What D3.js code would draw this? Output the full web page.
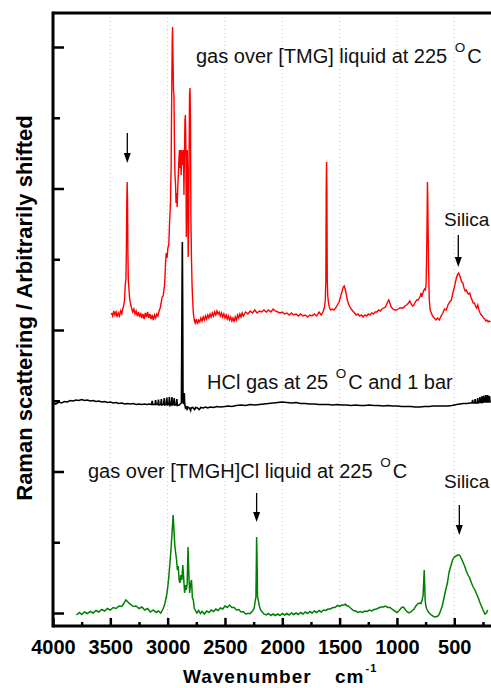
<!DOCTYPE html>
<html><head><meta charset="utf-8">
<script src="https://cdn.jsdelivr.net/npm/d3@7"></script>
<style>body{margin:0;background:#fff}svg{display:block;overflow:hidden}text{font-family:"Liberation Sans",Arial,sans-serif}</style>
</head><body>
<svg id="c" width="491" height="688"></svg>
<script>
// ---- data (wavenumber cm-1, arbitrarily shifted Raman intensity) ----
const xMajorTicks = [4000,3500,3000,2500,2000,1500,1000,500];
const xMinorTicks = [3750,3250,2750,2250,1750,1250,750,250];
const xTickLabels = ["4000","3500","3000","2500","2000","1500","1000","500"];
const yMajorTicks = [0,141.5,283,424.5,566];
const yMinorTicks = [70.75,212.25,353.75,495.25];

const tmgGas = [[3490,300],[3480,297],[3470,302],[3460,298],[3450,301],[3440,296],[3430,300],[3420,297],[3410,302],[3400,299],[3392,304],[3384,307],[3376,313],[3370,328],[3364,333],[3360,363],[3356,413],[3353,431],[3350,413],[3347,363],[3343,333],[3338,325],[3332,315],[3325,310],[3315,305],[3305,301],[3295,304],[3285,299],[3275,302],[3265,297],[3255,301],[3245,296],[3235,300],[3225,295],[3215,299],[3205,294],[3195,300],[3185,296],[3175,301],[3165,295],[3155,299],[3145,294],[3135,298],[3125,293],[3115,298],[3105,295],[3095,299],[3085,297],[3075,302],[3065,305],[3055,311],[3048,316],[3040,317],[3032,323],[3025,331],[3018,351],[3012,360],[3005,355],[2998,365],[2990,368],[2983,391],[2976,408],[2970,443],[2965,513],[2960,573],[2957,586],[2953,553],[2949,523],[2945,518],[2940,463],[2936,438],[2931,428],[2927,410],[2922,420],[2917,406],[2912,425],[2907,438],[2902,453],[2897,463],[2892,445],[2887,463],[2882,438],[2877,463],[2872,448],[2867,458],[2862,463],[2858,418],[2854,453],[2849,493],[2845,498],[2841,463],[2837,376],[2833,413],[2829,463],[2825,438],[2821,356],[2817,383],[2813,453],[2809,518],[2805,525],[2801,493],[2797,393],[2792,353],[2787,328],[2782,313],[2776,300],[2768,293],[2760,290],[2750,294],[2740,289],[2730,293],[2720,291],[2710,295],[2700,292],[2690,296],[2680,293],[2670,297],[2660,294],[2650,298],[2640,295],[2630,299],[2620,296],[2610,300],[2600,297],[2590,301],[2580,298],[2570,302],[2560,299],[2550,301],[2540,297],[2530,300],[2520,296],[2510,299],[2500,295],[2490,298],[2480,294],[2470,297],[2460,293],[2450,296],[2440,292],[2430,295],[2420,291],[2410,296],[2400,293],[2390,298],[2380,295],[2370,299],[2360,296],[2350,300],[2340,297],[2320,301],[2300,299],[2280,302],[2260,300],[2240,303],[2220,300],[2200,302],[2180,301],[2160,303],[2140,301],[2120,303],[2100,301],[2080,304],[2060,302],[2040,301],[2020,300],[2000,301],[1980,299],[1960,300],[1940,298],[1920,300],[1900,298],[1880,299],[1860,297],[1840,299],[1820,297],[1800,298],[1780,296],[1760,298],[1740,297],[1720,299],[1700,297],[1680,301],[1660,298],[1645,301],[1632,306],[1625,313],[1620,333],[1617,423],[1614,451],[1611,423],[1608,335],[1604,318],[1598,311],[1590,306],[1578,303],[1565,304],[1550,303],[1535,305],[1520,308],[1505,311],[1490,317],[1478,322],[1468,326],[1460,327],[1452,324],[1444,320],[1435,314],[1425,310],[1415,307],[1400,304],[1385,302],[1370,300],[1355,298],[1340,299],[1325,297],[1310,298],[1295,296],[1280,298],[1265,297],[1250,299],[1235,298],[1220,300],[1205,299],[1190,301],[1175,301],[1160,303],[1145,302],[1130,304],[1115,305],[1100,306],[1085,310],[1072,313],[1062,310],[1050,306],[1035,304],[1020,303],[1005,303],[990,304],[975,305],[960,305],[945,305],[930,307],[915,308],[900,310],[888,312],[876,309],[864,307],[852,308],[840,311],[828,313],[816,313],[805,315],[796,317],[790,320],[784,316],[776,319],[768,322],[760,324],[752,323],[746,328],[742,351],[738,383],[734,431],[731,413],[728,383],[724,343],[718,313],[710,303],[700,300],[690,297],[675,295],[660,293],[645,295],[630,293],[615,297],[600,300],[585,304],[570,303],[555,308],[540,311],[525,313],[510,321],[495,328],[482,335],[470,339],[462,340],[455,338],[445,335],[435,331],[425,330],[415,325],[405,322],[395,323],[385,320],[375,319],[365,320],[355,316],[345,313],[335,310],[325,310],[315,307],[305,305],[295,308],[285,303],[275,300],[265,298],[255,297],[245,295],[235,294],[225,292],[215,293],[205,291],[195,292],[185,291]];

const hclGas = [[4000,210],[3975,209],[3950,211],[3925,210],[3900,211.5],[3875,211],[3850,212.5],[3825,212],[3800,213],[3775,212.5],[3750,213.5],[3725,212.5],[3700,213],[3675,212],[3650,212.5],[3625,211.5],[3600,212],[3575,211],[3550,211.5],[3525,210.5],[3500,211],[3475,210],[3450,210.5],[3425,209.5],[3400,210],[3375,209],[3350,209.5],[3325,209],[3300,209.5],[3275,208.5],[3250,209],[3225,208.5],[3200,209],[3180,208.5],[3160,209],[3140,208.5],[3135,212],[3130,208.5],[3110,208.5],[3105,213],[3100,208.5],[3085,208.5],[3080,213.5],[3075,208],[3060,208.5],[3055,214],[3050,208],[3035,208.5],[3030,215],[3025,208],[3012,208.5],[3007,215.5],[3002,208],[2990,208.5],[2985,216],[2980,207.5],[2968,208.5],[2963,216],[2958,208],[2948,208.5],[2943,215],[2938,208],[2925,208],[2920,214],[2915,207.5],[2900,208],[2890,209],[2880,210],[2875,313],[2872,371],[2869,313],[2866,211],[2860,209],[2855,220],[2851,209],[2845,205],[2835,206],[2830,203],[2825,206],[2810,205],[2800,202.5],[2795,205],[2780,205.5],[2765,203.5],[2755,205.5],[2740,205],[2725,203.5],[2710,205.5],[2690,205],[2670,206],[2650,205],[2630,206],[2600,205.5],[2570,206.5],[2540,206],[2500,206.5],[2470,207],[2440,206.5],[2400,207.5],[2360,208],[2320,207.5],[2280,208.5],[2240,208],[2200,208.5],[2160,209],[2120,209.5],[2080,210],[2040,210.5],[2000,211],[1960,210.5],[1920,210],[1880,210.5],[1840,209.5],[1800,209.5],[1760,209],[1720,209],[1680,208.5],[1640,208.5],[1600,208.5],[1560,208],[1520,208.5],[1480,208],[1440,208],[1400,207.5],[1360,208],[1320,207.5],[1280,207.5],[1240,208],[1200,207.5],[1160,207.5],[1120,207],[1080,207.5],[1040,207],[1000,207],[960,206.5],[920,206.5],[880,206.5],[840,206],[800,206],[760,206.5],[720,206.5],[680,207],[640,207],[600,207],[560,207],[520,207.5],[480,208.5],[450,209],[420,209.5],[390,209.5],[360,210],[345,210],[340,213],[335,210],[322,210],[318,214],[314,210],[300,210],[296,215],[292,210],[280,210.5],[276,216],[272,210.5],[262,210.5],[258,217],[254,210.5],[245,211],[241,217.5],[237,211],[228,211],[224,218],[220,211],[212,211],[208,218],[204,211],[196,211],[192,217],[188,211],[182,211]];

const tmghclGas = [[3795,-2],[3770,0.5],[3750,-1.5],[3725,1],[3700,-0.5],[3675,1.5],[3650,0],[3625,2.5],[3600,1],[3575,3.5],[3550,2],[3525,4.5],[3500,3],[3475,5.5],[3450,4.5],[3425,7],[3400,6.5],[3380,10],[3365,13],[3350,11.5],[3335,9.5],[3315,8],[3300,6.5],[3275,7],[3250,4.5],[3225,6],[3200,3],[3175,4.5],[3150,1],[3125,3],[3100,0.5],[3080,2],[3060,0],[3040,4],[3025,9],[3010,17],[3000,25],[2990,36],[2980,50],[2970,65],[2960,83],[2952,98],[2945,83],[2938,68],[2930,60],[2922,53],[2915,43],[2908,47],[2900,33],[2893,30],[2885,38],[2876,33],[2868,48],[2860,35],[2852,20],[2845,28],[2838,23],[2830,29],[2822,66],[2815,38],[2808,20],[2800,29],[2792,33],[2784,15],[2776,13],[2768,5],[2760,3],[2745,0],[2730,2.5],[2715,-0.5],[2700,1.5],[2680,-1],[2660,2],[2640,0.5],[2620,3],[2600,1.5],[2580,4],[2560,2.5],[2540,5],[2520,4],[2500,7],[2480,5.5],[2460,8],[2440,5.5],[2420,5.5],[2400,3],[2380,3.5],[2360,1],[2340,1.5],[2320,-1],[2300,-0.5],[2280,-0.5],[2260,2],[2245,5],[2235,13],[2230,16],[2226,53],[2224,76],[2220,53],[2216,16],[2210,13],[2200,7],[2190,3],[2175,1],[2160,-1],[2140,-2],[2120,-0.5],[2100,-2.5],[2080,-1],[2060,-2.5],[2040,-1],[2020,-2.5],[2000,-0.5],[1980,-2],[1960,-0.5],[1940,-2],[1920,0],[1900,-1.5],[1880,0],[1860,-1.5],[1840,0.5],[1820,-1],[1800,1],[1780,-0.5],[1760,1.5],[1740,0],[1720,2],[1700,0.5],[1680,2.5],[1660,1],[1640,3],[1620,2.5],[1600,4],[1580,4],[1560,5.5],[1540,5.5],[1520,7.5],[1500,6.5],[1480,8],[1460,8],[1450,9],[1440,7.5],[1425,7],[1410,5.5],[1395,4],[1380,2.5],[1360,2],[1340,0.5],[1320,1.5],[1300,0.5],[1280,2],[1260,1.5],[1240,3],[1220,2],[1200,3.5],[1180,4],[1160,5],[1140,6],[1120,6],[1100,7],[1080,5.5],[1060,5.5],[1040,3.5],[1020,2],[1000,0.5],[985,2],[970,4],[955,6],[940,5.5],[925,3],[910,1],[895,0],[880,1],[865,2.5],[850,4],[835,7],[820,9],[805,10],[790,9.5],[780,13],[772,18],[766,33],[762,43],[758,28],[754,13],[748,7],[740,4],[725,1],[710,-1],[695,-2.5],[680,-3.5],[665,-4],[650,-3.5],[635,-2],[620,2],[605,7],[590,15],[575,23],[560,30],[545,41],[530,47],[515,53],[500,56],[485,57],[470,58],[455,58],[440,55],[425,51],[410,47],[395,42],[380,38],[365,35],[350,30],[335,26],[320,23],[305,19],[290,15],[275,10],[260,6],[245,2],[232,-1],[220,0],[208,3]];

// ---- layout ----
const svg = d3.select("#c");
const W = 491, H = 688;
const m = {left:53, top:13, bottom:626};
const x = d3.scaleLinear().domain([4000,0]).range([53, 511.6]);
const y = d3.scaleLinear().domain([-13,600]).range([626, 13]);
const FONT = '"Liberation Sans", Arial, sans-serif';

svg.append("rect").attr("width",W).attr("height",H).attr("fill","#fff");

// grid
svg.append("g").selectAll("line").data(xMajorTicks.filter(d=>d<4000)).join("line")
  .attr("x1",d=>x(d)).attr("x2",d=>x(d)).attr("y1",y(600)).attr("y2",y(-13))
  .attr("stroke","#c4c4c4").attr("stroke-width",1).attr("stroke-dasharray","1,3");

svg.append("defs").append("clipPath").attr("id","clip").append("rect")
  .attr("x",54).attr("y",14).attr("width",470).attr("height",611);

const line = d3.line().x(d=>x(d[0])).y(d=>y(d[1]));
const plot = svg.append("g").attr("clip-path","url(#clip)");
plot.append("path").datum(tmgGas).attr("d",line).attr("fill","none").attr("stroke","#ff0000").attr("stroke-width",1.4);
plot.append("path").datum(hclGas).attr("d",line).attr("fill","none").attr("stroke","#000").attr("stroke-width",1.6);
plot.append("path").datum(tmghclGas).attr("d",line).attr("fill","none").attr("stroke","#008000").attr("stroke-width",1.5);

// axes
const xAxis = svg.append("g").attr("transform",`translate(0,${y(-13)})`)
  .call(d3.axisBottom(x).tickValues(xMajorTicks).tickSize(-8).tickSizeOuter(0).tickPadding(13.5)
    .tickFormat((d,i)=>xTickLabels[i]));
xAxis.select(".domain").remove();
xAxis.selectAll(".tick line").attr("stroke-width",2.5);
xAxis.selectAll("text").attr("font-family",FONT).attr("font-weight","bold").attr("font-size",20).attr("fill","#000");
const xAxisMinor = svg.append("g").attr("transform",`translate(0,${y(-13)})`)
  .call(d3.axisBottom(x).tickValues(xMinorTicks).tickSize(-4).tickSizeOuter(0).tickFormat(""));
xAxisMinor.select(".domain").remove();
xAxisMinor.selectAll(".tick line").attr("stroke-width",2.5);

const yAxis = svg.append("g").attr("transform",`translate(${m.left},0)`)
  .call(d3.axisLeft(y).tickValues(yMajorTicks).tickSize(-11).tickSizeOuter(0).tickFormat(""));
yAxis.select(".domain").remove();
yAxis.selectAll(".tick line").attr("stroke-width",2.5);
const yAxisMinor = svg.append("g").attr("transform",`translate(${m.left},0)`)
  .call(d3.axisLeft(y).tickValues(yMinorTicks).tickSize(-7).tickSizeOuter(0).tickFormat(""));
yAxisMinor.select(".domain").remove();
yAxisMinor.selectAll(".tick line").attr("stroke-width",2.5);

// frame
svg.append("line").attr("x1",53).attr("x2",W).attr("y1",y(600)).attr("y2",y(600)).attr("stroke","#000").attr("stroke-width",3);
svg.append("line").attr("x1",53).attr("x2",W).attr("y1",y(-13)).attr("y2",y(-13)).attr("stroke","#000").attr("stroke-width",3);
svg.append("line").attr("x1",53).attr("x2",53).attr("y1",y(600)-1.5).attr("y2",y(-13)+1.5).attr("stroke","#000").attr("stroke-width",3);

// axis titles
svg.append("text").attr("transform","translate(32,308) rotate(-90)").attr("text-anchor","middle")
  .attr("font-family",FONT).attr("font-weight","bold").attr("font-size",22).attr("fill","#000")
  .text("Raman scattering / Arbitrarily shifted");
const xt = svg.append("text").attr("x",183).attr("y",683).attr("font-family",FONT).attr("font-weight","bold")
  .attr("font-size",19).attr("fill","#000").attr("letter-spacing",1);
xt.append("tspan").text("Wavenumber");
xt.append("tspan").attr("x",335).text("cm");
xt.append("tspan").attr("dx",1).attr("dy",-11).attr("font-size",11).text("-1");

// annotations
function label(tx, ty, pre, post, size){
  const t = svg.append("text").attr("x",tx).attr("y",ty).attr("font-family",FONT).attr("font-size",size||20).attr("fill","#111");
  t.append("tspan").text(pre);
  if(post!==undefined){
    t.append("tspan").attr("dx",2).attr("dy",-11).attr("font-size",13.5).text("O");
    t.append("tspan").attr("dx",2).attr("dy",11).text(post);
  }
}
label(196,63,"gas over [TMG] liquid at 225 ","C");
label(207,389,"HCl gas at 25 ","C and 1 bar");
label(88,478,"gas over [TMGH]Cl liquid at 225 ","C");
label(444,226,"Silica",undefined,19);
label(444,488,"Silica",undefined,19);

function arrow(wn, y1, y2){
  const ax = x(wn);
  svg.append("line").attr("x1",ax).attr("x2",ax).attr("y1",y1).attr("y2",y2-6).attr("stroke","#000").attr("stroke-width",1.3);
  svg.append("path").attr("d",`M${ax-3.5},${y2-10} L${ax+3.5},${y2-10} L${ax},${y2} Z`).attr("fill","#000");
}
arrow(3352,133,163);
arrow(465,235,267);
arrow(2224,493,522);
arrow(456,505,535);
</script>
</body></html>
